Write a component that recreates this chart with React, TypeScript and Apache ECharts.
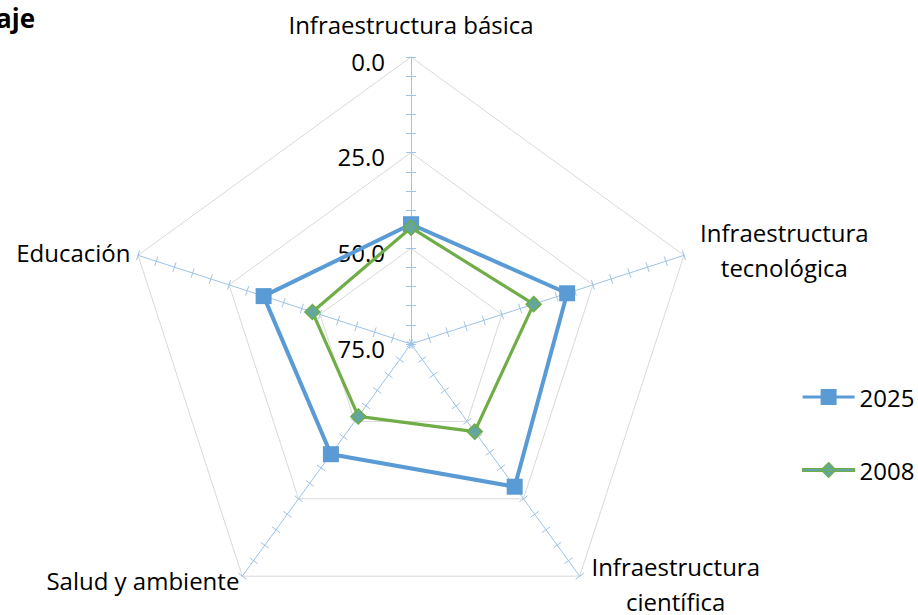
import React, { useEffect, useRef } from "react";
import * as echarts from "echarts";

const categories = [
  "Infraestructura básica",
  "Infraestructura tecnológica",
  "Infraestructura científica",
  "Salud y ambiente",
  "Educación",
];
const seriesNames = ["2025", "2008"];
const values2025 = [43.7, 32.1, 28.9, 39.4, 34.5];
const values2008 = [44.6, 41.3, 46.7, 51.6, 47.9];
const axisMin = 0;
const axisMax = 75;
const axisStep = 25;
const tickLabels = ["0.0", "25.0", "50.0", "75.0"];
const titleText = "Porcentaje";

const FONT = "Open Sans";
const FS = 24;
const AXIS_BLUE = "#9DC3E6";
const BLUE = "#5B9BD5";
const GREEN = "#70AD47";
const TEAL = "#63A69D";

export default function App() {
  const ref = useRef<HTMLDivElement>(null);
  useEffect(() => {
    if (!ref.current) return;
    const chart = echarts.init(ref.current, undefined, { renderer: "svg" });
    // ECharts radar runs counter-clockwise; Excel runs clockwise
    const order = [0, 4, 3, 2, 1];
    const nameGaps = [15, 17, 20, 5, 8];
    const namePads: any[] = [0, 0, [0, 0, 16, 0], [0, 0, 0, 0], 0];
    const minorTick = (len: number) => ({
      show: true,
      splitNumber: 5,
      length: len,
      lineStyle: { color: AXIS_BLUE, width: 1 },
    });
    const indicators = (len: number, withLabels: boolean) =>
      order.map((i, k) => ({
        name: categories[i],
        min: axisMin,
        max: axisMax,
        nameGap: nameGaps[i],
        nameTextStyle: { padding: namePads[i] },
        minorTick: minorTick(len),
        axisLabel:
          withLabels && k === 0
            ? {
                show: true,
                color: "#000",
                fontSize: FS,
                fontFamily: FONT,
                margin: 26,
                verticalAlign: "top",
                lineHeight: 8,
                formatter: (v: number) =>
                  tickLabels[Math.round((axisMax - v) / axisStep)] ?? "",
              }
            : { show: false },
      }));
    const base = {
      center: [411, 344],
      radius: 287,
      startAngle: 90,
      splitNumber: (axisMax - axisMin) / axisStep,
      shape: "polygon",
      splitArea: { show: false },
    };
    const nameFormatter = (name: string) => {
      if (name === categories[1] || name === categories[2]) {
        const idx = name.indexOf(" ");
        return `{c|${name.slice(0, idx)}}\n{c|${name.slice(idx + 1)}}`;
      }
      return `{c|${name}}`;
    };
    const data2025 = order.map((i) => axisMax - values2025[i]);
    const data2008 = order.map((i) => axisMax - values2008[i]);
    const option = {
      animation: false,
      legend: {
        orient: "vertical",
        left: 802,
        top: 385,
        padding: 0,
        itemWidth: 52,
        itemHeight: 16,
        itemGap: 49,
        textStyle: { fontSize: FS, fontFamily: FONT, color: "#000" },
        data: [
          {
            name: seriesNames[0],
            icon: "path://M0,6.5 H52 V9.5 H0 Z M18,0 H34 V16 H18 Z",
            itemStyle: { color: BLUE, borderWidth: 0 },
          },
          {
            name: seriesNames[1],
            icon: "path://M0,6.5 H52 V9.5 H0 Z M26,0.5 L33.5,8 L26,15.5 L18.5,8 Z",
            itemStyle: { color: TEAL, borderColor: GREEN, borderWidth: 1.2 },
          },
        ],
      },
      graphic: [
        {
          type: "text",
          x: 35,
          y: 18,
          style: {
            text: titleText,
            fontSize: 26,
            fontWeight: "bold",
            fontFamily: FONT,
            fill: "#000",
            align: "right",
            verticalAlign: "middle",
          },
        },
      ],
      radar: [
        {
          ...base,
          indicator: indicators(5, true),
          axisName: {
            show: true,
            color: "#000",
            fontSize: FS,
            fontFamily: FONT,
            formatter: nameFormatter,
            rich: {
              c: {
                align: "center",
                fontSize: FS,
                fontFamily: FONT,
                color: "#000",
                lineHeight: 35,
              },
            },
          },
          axisNameGap: 12,
          axisLine: { show: true, lineStyle: { color: AXIS_BLUE, width: 1 } },
          axisTick: { show: true, length: 5, lineStyle: { color: AXIS_BLUE, width: 1 } },
          splitLine: { show: true, lineStyle: { color: "#D9D9D9", width: 1 } },
          axisLabel: { show: false },
        },
        {
          ...base,
          indicator: indicators(-5, false),
          axisName: { show: false },
          axisLine: { show: false },
          axisTick: { show: true, length: -5, lineStyle: { color: AXIS_BLUE, width: 1 } },
          splitLine: { show: false },
          axisLabel: { show: false },
        },
      ],
      series: [
        {
          type: "radar",
          radarIndex: 0,
          name: seriesNames[0],
          symbol: "rect",
          symbolSize: 16,
          itemStyle: { color: BLUE },
          lineStyle: { color: BLUE, width: 4 },
          z: 3,
          data: [{ name: seriesNames[0], value: data2025 }],
        },
        {
          type: "radar",
          radarIndex: 0,
          name: seriesNames[1],
          symbol: "none",
          lineStyle: { color: GREEN, width: 3.2 },
          itemStyle: { color: GREEN },
          z: 4,
          data: [{ name: seriesNames[1], value: data2008 }],
        },
        {
          type: "radar",
          radarIndex: 0,
          name: seriesNames[1],
          symbol: "diamond",
          symbolSize: 15,
          lineStyle: { color: TEAL, width: 0, opacity: 0 },
          itemStyle: { color: TEAL, borderColor: GREEN, borderWidth: 1.5 },
          z: 5,
          data: [{ name: seriesNames[1], value: data2008 }],
        },
      ],
    };
    chart.setOption(option as any);
    return () => chart.dispose();
  }, []);
  return (
    <div
      ref={ref}
      style={{ position: "absolute", left: 0, top: 0, width: 918, height: 615 }}
    />
  );
}
